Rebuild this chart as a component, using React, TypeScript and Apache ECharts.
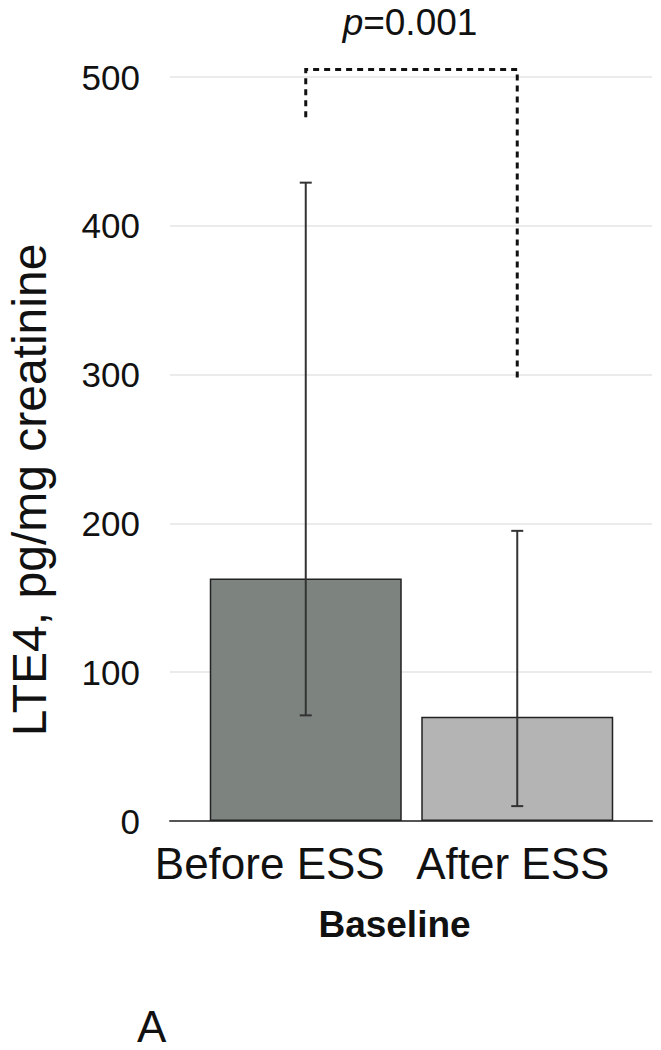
import React, { useEffect, useRef } from "react";
import * as echarts from "echarts";

const categories = ["Before ESS", "After ESS"];
const meanValues = [163, 70];
const errLow = [71, 10];
const errHigh = [429, 195];
const yMin = 0;
const yMax = 500;
const yInterval = 100;
const bracketLeft = 473;
const bracketTop = 505;
const bracketRight = 298;
const pLabelItalic = "p";
const pLabelRest = "=0.001";
const yTitle = "LTE4, pg/mg creatinine";
const xTitle = "Baseline";
const panelLetter = "A";
const barColors = ["#7d847f", "#b4b4b4"];

export default function App() {
  const ref = useRef<HTMLDivElement>(null);
  useEffect(() => {
    const chart = echarts.init(ref.current!, null, { renderer: "svg" });
    const font = "'Liberation Sans', Arial, Helvetica, sans-serif";
    chart.setOption({
      animation: false,
      textStyle: { fontFamily: font },
      grid: [
        { left: 170, right: 9, top: 77, bottom: 229 },
        { left: 200, right: 38, top: 77, bottom: 229 },
      ],
      xAxis: [
        {
          type: "value",
          gridIndex: 0,
          min: 0,
          max: 1,
          axisLabel: { show: false },
          axisTick: { show: false },
          splitLine: { show: false },
          axisLine: { show: true, lineStyle: { color: "#555", width: 2 } },
        },
        {
          type: "category",
          gridIndex: 1,
          data: categories,
          axisLine: { show: false },
          axisTick: { show: false },
          axisLabel: {
            interval: 0,
            hideOverlap: false,
            fontSize: 44,
            color: "#111",
            margin: 20,
            formatter: (v: string, i: number) => (i === 0 ? `{a|${v}}` : `{b|${v}}`),
            rich: {
              a: { fontSize: 44, color: "#111", padding: [0, 72, 0, 0] },
              b: { fontSize: 44, color: "#111", padding: [0, 9, 0, 0] },
            },
          },
          name: xTitle,
          nameLocation: "middle",
          nameGap: 85,
          nameTextStyle: { fontSize: 37, fontWeight: "bold", color: "#111", padding: [0, 34, 0, 0] },
        },
      ],
      yAxis: [
        {
          type: "value",
          gridIndex: 0,
          min: yMin,
          max: yMax,
          interval: yInterval,
          axisLine: { show: false },
          axisTick: { show: false },
          axisLabel: { fontSize: 35, color: "#111", margin: 30 },
          splitLine: { lineStyle: { color: "#ebebeb", width: 2 } },
        },
        {
          type: "value",
          gridIndex: 1,
          min: yMin,
          max: yMax,
          interval: yInterval,
          show: false,
          splitLine: { show: false },
        },
      ],
      graphic: [
        {
          type: "text",
          x: 29,
          y: 490,
          rotation: Math.PI / 2,
          style: {
            text: yTitle,
            fontSize: 48,
            fontFamily: font,
            fill: "#111",
            align: "center",
            verticalAlign: "middle",
          },
        },
        {
          type: "text",
          x: 410,
          y: 22,
          style: {
            text: `{i|${pLabelItalic}}{r|${pLabelRest}}`,
            align: "center",
            verticalAlign: "middle",
            rich: {
              i: { fontSize: 37, fontStyle: "italic", fontFamily: font, fill: "#111" },
              r: { fontSize: 37, fontFamily: font, fill: "#111" },
            },
          },
        },
        {
          type: "text",
          x: 137,
          y: 1026,
          style: {
            text: panelLetter,
            fontSize: 44,
            fontFamily: font,
            fill: "#111",
            align: "left",
            verticalAlign: "middle",
          },
        },
      ],
      series: [
        {
          type: "bar",
          xAxisIndex: 1,
          yAxisIndex: 1,
          barWidth: 192,
          data: meanValues.map((v, i) => ({
            value: v,
            itemStyle: { color: barColors[i], borderColor: "#222", borderWidth: 1.5 },
          })),
        },
        {
          type: "custom",
          xAxisIndex: 1,
          yAxisIndex: 1,
          z: 5,
          encode: { x: 0, y: [1, 2] },
          data: categories.map((_, i) => [i, errLow[i], errHigh[i]]),
          renderItem: (params: any, api: any) => {
            const x = api.value(0);
            const lo = api.coord([x, api.value(1)]);
            const hi = api.coord([x, api.value(2)]);
            const cw = 6;
            const st = { stroke: "#333", lineWidth: 2 };
            return {
              type: "group",
              children: [
                { type: "line", shape: { x1: lo[0], y1: lo[1], x2: hi[0], y2: hi[1] }, style: st },
                { type: "line", shape: { x1: lo[0] - cw, y1: lo[1], x2: lo[0] + cw, y2: lo[1] }, style: st },
                { type: "line", shape: { x1: hi[0] - cw, y1: hi[1], x2: hi[0] + cw, y2: hi[1] }, style: st },
              ],
            };
          },
        },
        {
          type: "custom",
          xAxisIndex: 1,
          yAxisIndex: 1,
          z: 5,
          encode: { x: [0, 1], y: [2, 3, 4] },
          data: [[0, 1, bracketLeft, bracketTop, bracketRight]],
          renderItem: (params: any, api: any) => {
            const a = api.value(0);
            const b = api.value(1);
            const p1 = api.coord([a, api.value(2)]);
            const p2 = api.coord([a, api.value(3)]);
            const p3 = api.coord([b, api.value(3)]);
            const p4 = api.coord([b, api.value(4)]);
            return {
              type: "polyline",
              shape: { points: [p1, p2, p3, p4] },
              style: { stroke: "#111", lineWidth: 3, lineDash: [6, 5], fill: "none" },
            };
          },
        },
      ],
    });
    return () => chart.dispose();
  }, []);
  return (
    <div
      ref={ref}
      style={{ position: "absolute", left: 0, top: 0, width: 661, height: 1050, background: "#fff" }}
    />
  );
}
